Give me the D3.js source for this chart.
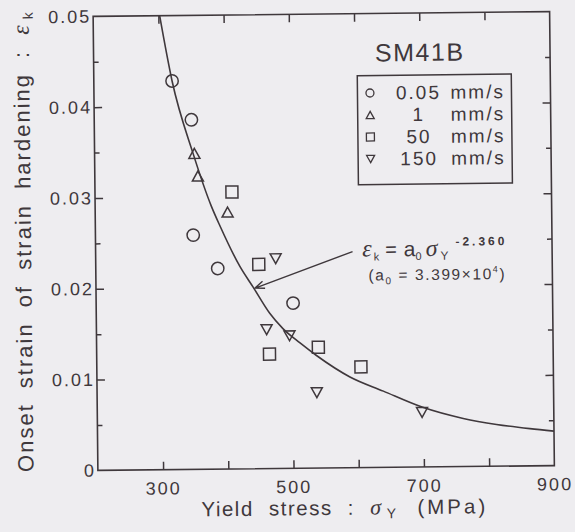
<!DOCTYPE html>
<html>
<head>
<meta charset="utf-8">
<script src="https://cdn.jsdelivr.net/npm/d3@7"></script>
<style>
  body { margin: 0; background: #eeedf0; }
  svg { display: block; }
</style>
</head>
<body>
<svg id="chart" width="575" height="532"></svg>
<script>
// readings from the figure (yield stress in MPa, strain at onset of hardening)
var speeds = ["0.05", "1", "50", "150"]
var speedUnit = "mm/s"
var sigma005 = [320, 349, 350, 387, 502]
var eps005 = [0.0428, 0.0385, 0.0258, 0.0221, 0.0182]
var sigma1 = [353, 358, 403]
var eps1 = [0.0348, 0.0323, 0.0283]
var sigma50 = [410, 450, 465, 540, 605]
var eps50 = [0.0305, 0.0225, 0.0126, 0.0133, 0.0111]
var sigma150 = [476, 461, 496, 537, 698]
var eps150 = [0.0231, 0.0153, 0.0146, 0.0083, 0.0060]

// fitted curve as drawn
var fitSigma = [302, 320, 351, 378, 391, 421, 441, 466, 486, 512, 537, 588, 639, 698, 761, 812, 863, 900]
var fitEps = [0.0500, 0.0428, 0.0348, 0.0290, 0.0268, 0.0223, 0.0200, 0.0171, 0.0154, 0.0138, 0.0124, 0.0100, 0.0084, 0.0066, 0.0053, 0.0046, 0.0041, 0.0038]

var xTicks = [300, 400, 500, 600, 700, 800]
var xLabels = [300, 500, 700, 900]
var yLabels = [0, 0.01, 0.02, 0.03, 0.04, 0.05]
var yMajor = [0.01, 0.02, 0.03, 0.04]
var yMinor = [0.005, 0.015, 0.025, 0.035, 0.045]

var arrowFrom = [594, 0.0238]
var arrowTo = [444, 0.0199]

var ink = "#3f383c"
var sans = "'Liberation Sans', Arial, sans-serif"
var serif = "'Liberation Serif', 'Times New Roman', serif"

var x = d3.scaleLinear().domain([200, 900]).range([95.5, 552])
var y = d3.scaleLinear().domain([0, 0.05]).range([468, 14])

// the scan is tilted a little
var svg = d3.select("#chart")
var root = svg.append("g").attr("transform", "rotate(-0.6, 324, 241)")

// triangles centred on their box, like the printed marks
var triUp = { draw: function(ctx, size) {
  var s = Math.sqrt(size)
  ctx.moveTo(0, -0.45*s); ctx.lineTo(0.5*s, 0.45*s); ctx.lineTo(-0.5*s, 0.45*s); ctx.closePath()
}}
var triDown = { draw: function(ctx, size) {
  var s = Math.sqrt(size)
  ctx.moveTo(0, 0.45*s); ctx.lineTo(0.5*s, -0.45*s); ctx.lineTo(-0.5*s, -0.45*s); ctx.closePath()
}}

var series = [
  {name: speeds[0], sx: sigma005, ey: eps005, type: d3.symbolCircle, size: 120, legSize: 50},
  {name: speeds[1], sx: sigma1, ey: eps1, type: triUp, size: 121, legSize: 64},
  {name: speeds[2], sx: sigma50, ey: eps50, type: d3.symbolSquare, size: 144, legSize: 64},
  {name: speeds[3], sx: sigma150, ey: eps150, type: triDown, size: 121, legSize: 64}
]

// frame
root.append("rect")
  .attr("x", x(200)).attr("y", y(0.05))
  .attr("width", x(900) - x(200)).attr("height", y(0) - y(0.05))
  .attr("fill", "none").attr("stroke", ink).attr("stroke-width", 1.6)

function plainAxis(g) {
  g.attr("color", ink).attr("font-family", sans)
  g.select(".domain").remove()
  g.selectAll(".tick line").attr("stroke-width", 1.5)
}

root.append("g").attr("transform", "translate(0," + y(0) + ")")
  .call(d3.axisBottom(x).tickValues(xTicks).tickSize(-8).tickFormat(""))
  .call(plainAxis)
root.append("g").attr("transform", "translate(0," + y(0.05) + ")")
  .call(d3.axisTop(x).tickValues(xTicks).tickSize(-8).tickFormat(""))
  .call(plainAxis)
root.append("g").attr("transform", "translate(0," + y(0) + ")")
  .call(d3.axisBottom(x).tickValues(xLabels).tickSize(0).tickPadding(12))
  .call(plainAxis)
  .call(g => g.selectAll("text").attr("font-size", 18).style("letter-spacing", "2px").attr("fill", ink))

root.append("g").attr("transform", "translate(" + x(200) + ",0)")
  .call(d3.axisLeft(y).tickValues(yMajor).tickSize(-8).tickFormat(""))
  .call(plainAxis)
root.append("g").attr("transform", "translate(" + x(200) + ",0)")
  .call(d3.axisLeft(y).tickValues(yMinor).tickSize(-5).tickFormat(""))
  .call(plainAxis)
root.append("g").attr("transform", "translate(" + x(900) + ",0)")
  .call(d3.axisRight(y).tickValues(yMajor).tickSize(-8).tickFormat(""))
  .call(plainAxis)
root.append("g").attr("transform", "translate(" + x(900) + ",0)")
  .call(d3.axisRight(y).tickValues(yMinor).tickSize(-5).tickFormat(""))
  .call(plainAxis)
root.append("g").attr("transform", "translate(" + x(200) + ",0)")
  .call(d3.axisLeft(y).tickValues(yLabels).tickSize(0).tickPadding(2)
    .tickFormat(d => d === 0 ? "0" : d3.format(".2f")(d)))
  .call(plainAxis)
  .call(g => g.selectAll("text").attr("font-size", 18).style("letter-spacing", "2px").attr("fill", ink))

// fitted curve
var fit = fitSigma.map((s, i) => [s, fitEps[i]])
root.append("path")
  .datum(fit)
  .attr("fill", "none").attr("stroke", ink).attr("stroke-width", 1.6)
  .attr("d", d3.line().x(d => x(d[0])).y(d => y(d[1])).curve(d3.curveMonotoneX))

// data marks
series.forEach(function(s) {
  root.append("g").selectAll("path")
    .data(s.sx.map((v, i) => [v, s.ey[i]]))
    .join("path")
      .attr("transform", d => "translate(" + x(d[0]) + "," + y(d[1]) + ")")
      .attr("d", d3.symbol().type(s.type).size(s.size))
      .attr("fill", "none").attr("stroke", ink).attr("stroke-width", 1.5)
})

// arrow to the curve
var ax0 = x(arrowFrom[0]), ay0 = y(arrowFrom[1]), ax1 = x(arrowTo[0]), ay1 = y(arrowTo[1])
var ang = Math.atan2(ay0 - ay1, ax0 - ax1)
var head = 10, spread = 0.38
root.append("path")
  .attr("d", "M" + ax0 + "," + ay0 + "L" + ax1 + "," + ay1 +
    "M" + (ax1 + head*Math.cos(ang + spread)) + "," + (ay1 + head*Math.sin(ang + spread)) +
    "L" + ax1 + "," + ay1 +
    "L" + (ax1 + head*Math.cos(ang - spread)) + "," + (ay1 + head*Math.sin(ang - spread)))
  .attr("fill", "none").attr("stroke", ink).attr("stroke-width", 1.4)

// equation
var eq = root.append("text").attr("x", 362).attr("y", 257).attr("fill", ink).attr("font-family", sans)
eq.append("tspan").text("ε").attr("font-family", serif).attr("font-style", "italic").attr("font-size", 24)
eq.append("tspan").text("k").attr("font-size", 11).attr("dx", 2).attr("dy", 4)
eq.append("tspan").text("=").attr("font-size", 20).attr("dx", 6).attr("dy", -4)
eq.append("tspan").text("a").attr("font-size", 21).attr("dx", 7)
eq.append("tspan").text("0").attr("font-size", 11).attr("dy", 4)
eq.append("tspan").text("σ").attr("font-family", serif).attr("font-style", "italic").attr("font-size", 24).attr("dx", 4).attr("dy", -4)
eq.append("tspan").text("Y").attr("font-size", 12).attr("dx", 3).attr("dy", 4)
eq.append("tspan").text("-2.360").attr("font-size", 12).attr("font-weight", "bold").attr("dx", 7).attr("dy", -14).style("letter-spacing", "3px")

var eq2 = root.append("text").attr("x", 368).attr("y", 281).attr("fill", ink).attr("font-family", sans)
  .attr("font-size", 15.5).style("letter-spacing", "1.6px")
eq2.append("tspan").text("(a")
eq2.append("tspan").text("0").attr("font-size", 10).attr("dy", 4)
eq2.append("tspan").text(" = 3.399×10").attr("dy", -4)
eq2.append("tspan").text("4").attr("font-size", 9).attr("dy", -7)
eq2.append("tspan").text(")").attr("dy", 7)

// material label and legend
root.append("text").attr("x", 377).attr("y", 62)
  .attr("font-family", sans).attr("font-size", 25).style("letter-spacing", "1.5px")
  .attr("fill", ink).text("SM41B")

root.append("rect").attr("x", 359).attr("y", 76).attr("width", 154).attr("height", 109)
  .attr("fill", "none").attr("stroke", ink).attr("stroke-width", 1.5)

var leg = root.append("g").selectAll("g").data(series).join("g")
  .attr("transform", (d, i) => "translate(0," + (93.5 + i*22) + ")")
leg.append("path")
  .attr("transform", "translate(371.5,0)")
  .attr("d", d => d3.symbol().type(d.type).size(d.legSize)())
  .attr("fill", "none").attr("stroke", ink).attr("stroke-width", 1.3)
leg.append("text").attr("x", 420).attr("y", 6.5).attr("text-anchor", "middle")
  .attr("font-family", sans).attr("font-size", 19).style("letter-spacing", "2px")
  .attr("fill", ink).text(d => d.name)
leg.append("text").attr("x", 452).attr("y", 6.5)
  .attr("font-family", sans).attr("font-size", 19).style("letter-spacing", "2px")
  .attr("fill", ink).text(speedUnit)

// axis titles
var xt = root.append("text").attr("x", 342).attr("y", 515).attr("text-anchor", "middle")
  .attr("font-family", sans).attr("font-size", 20.5).attr("fill", ink)
  .style("letter-spacing", "1.5px").style("word-spacing", "8px")
xt.append("tspan").text("Yield stress : ")
xt.append("tspan").text("σ").attr("font-family", serif).attr("font-style", "italic").attr("font-size", 22)
xt.append("tspan").text("Y").attr("font-size", 14).attr("dx", 4).attr("dy", 4)
xt.append("tspan").text("(MPa)").attr("dx", 20).attr("dy", -4).style("letter-spacing", "3px")

var yt = root.append("text").attr("transform", "translate(31,238) rotate(-90)").attr("text-anchor", "middle")
  .attr("font-family", sans).attr("font-size", 22).attr("fill", ink)
  .style("letter-spacing", "2px").style("word-spacing", "7px")
yt.append("tspan").text("Onset strain of strain hardening : ")
yt.append("tspan").text("ε").attr("font-family", serif).attr("font-style", "italic").attr("font-size", 24)
yt.append("tspan").text("k").attr("font-size", 14).attr("dx", 4).attr("dy", 4)
</script>
</body>
</html>
